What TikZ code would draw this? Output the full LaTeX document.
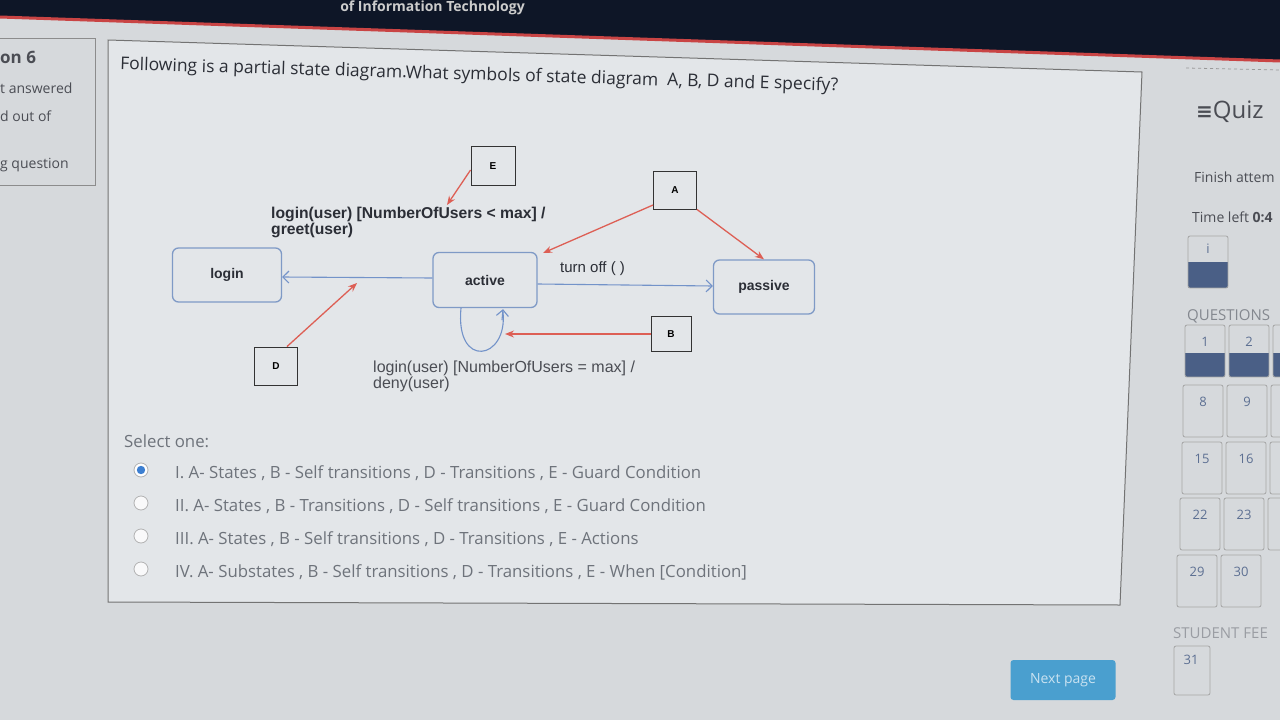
\documentclass[tikz,border=0pt]{standalone}
\usepackage{fontspec}
\setmainfont{Open Sans}
\newfontfamily\diagfont{Liberation Sans}
\newfontfamily\symfont{DejaVu Sans}
\usetikzlibrary{arrows.meta,positioning,calc}
\definecolor{pagebg}{HTML}{D6D9DC}
\definecolor{boxbg}{HTML}{E3E6E9}
\definecolor{navy}{HTML}{0E1627}
\definecolor{topred}{HTML}{C94444}
\definecolor{stateblue}{HTML}{7F9AC6}
\definecolor{transblue}{HTML}{7393C9}
\definecolor{pointred}{HTML}{DD5F55}
\definecolor{txtdark}{HTML}{2B2E36}
\definecolor{txtgray}{HTML}{6E737B}
\definecolor{radioblue}{HTML}{3D7FD1}
\definecolor{qdark}{HTML}{4A5F86}
\definecolor{btnblue}{HTML}{4A9FCF}
\tikzset{
  state/.style={draw=stateblue, fill=boxbg, rounded corners=6pt, line width=1.3pt,
    font=\diagfont\bfseries\fontsize{14}{16}\selectfont, text=txtdark},
  tag/.style={draw=black!80, fill=boxbg, line width=0.9pt, minimum width=43pt,
    minimum height=38pt, font=\diagfont\bfseries\fontsize{10}{12}\selectfont},
  trans/.style={-{Straight Barb[length=6pt,width=12pt]}, draw=transblue, line width=1.1pt},
  pointer/.style={-{Stealth[length=9pt,width=7pt]}, draw=pointred, line width=1.3pt},
  lbl/.style={font=\diagfont\fontsize{16}{15.5}\selectfont, align=left, inner sep=0pt, text=txtdark},
  opt/.style={anchor=west, font=\fontsize{16.8}{18}\selectfont, text=txtgray, inner sep=0pt},
  side/.style={anchor=west, font=\fontsize{14}{16}\selectfont, text=txtdark!85, inner sep=0pt},
  qbox/.style={draw=black!35, line width=0.8pt, rounded corners=2pt},
  qnum/.style={font=\fontsize{13}{15}\selectfont, text=qdark!90},
}
\begin{document}
\begin{tikzpicture}[x=1pt, y=-1pt]
  \useasboundingbox (0,0) rectangle (1280,720);
  \fill[pagebg] (0,0) rectangle (1280,720);
  % top bar
  \fill[navy] (0,0) -- (1280,0) -- (1280,60) -- (0,16) -- cycle;
  \draw[topred, line width=3pt] (0,17) -- (1280,61);
  \node[anchor=base east, font=\bfseries\fontsize{14}{16}\selectfont, text=black!20, inner sep=0pt] (site) at (525,12) {of Information Technology};
  % left panel
  \draw[black!45, line width=0.9pt] (-5,38) rectangle (95,185);
  \node[side, font=\bfseries\fontsize{17}{19}\selectfont] (qno) at (0,57) {on 6};
  \node[side] (ans) at (0,88) {t answered};
  \node[side] (mark) at (0,116) {d out of};
  \node[side] (flag) at (0,165) {g question};
  % question box
  \draw[black!55, fill=boxbg, line width=1pt] (108,40) -- (1142,72) -- (1120,605) -- (108,602) -- cycle;
  \node[anchor=west, rotate=-1.7, font=\fontsize{17.5}{20}\selectfont, text=txtdark, inner sep=0pt] (title) at (120,65)
    {Following is a partial state diagram.What symbols of state diagram\ \ A, B, D and E specify?};
  % states
  \node[state, minimum width=109pt, minimum height=54pt] (login) at (227,275) {login};
  \node[state, minimum width=104pt, minimum height=55pt] (active) at (485,280) {active};
  \node[state, minimum width=101pt, minimum height=54pt] (passive) at (764,287) {passive};
  % lettered boxes
  \node[tag, minimum width=44pt, minimum height=39pt] (E) at (493,166) {E};
  \node[tag] (A) at (675,190) {A};
  \node[tag, minimum width=40pt, minimum height=35pt] (B) at (671,334) {B};
  \node[tag] (D) at (276,366) {D};
  % labels
  \node[lbl, anchor=north west, font=\diagfont\bfseries\fontsize{15.7}{15.5}\selectfont] (guardok) at (271,207)
    {login(user) [NumberOfUsers < max] /\\greet(user)};
  \node[lbl, anchor=south west, font=\diagfont\fontsize{15}{15.5}\selectfont] (turnoff) at (560,276) {turn off ( )};
  \node[lbl, anchor=north west, text=txtdark!85] (guardfull) at (373,361)
    {login(user) [NumberOfUsers = max] /\\deny(user)};
  % transitions
  \draw[trans] (active.west |- 0,278) -- (login.east |- 0,277);
  \draw[trans] (active.east |- 0,284) -- (passive.west |- 0,286);
  \draw[transblue, line width=1.1pt] ($(active.south)+(-24,0)$) .. controls (455,370) and (508,360) .. ($(active.south)+(18,4)$);
  \draw[trans] ($(active.south)+(17,12)$) -- ($(active.south)+(18,1)$);
  % pointers
  \coordinate (eTip) at (447,205);
  \coordinate (aTip) at (543,253);
  \coordinate (bTip) at (505,334);
  \coordinate (dTip) at (357,283);
  \draw[pointer] (E.west |- 0,170) -- (eTip);
  \draw[pointer] (A.south west |- 0,205) -- (aTip);
  \draw[pointer] (A.south east) -- (passive.north);
  \draw[pointer] (B.west) -- (bTip);
  \draw[pointer] ($(D.north)+(11,0)$) -- (dTip);
  % answers
  \node[opt] (sel) at (124,441) {Select one:};
  \foreach \t [count=\k] in {
      {I. A- States , B - Self transitions , D - Transitions , E - Guard Condition},
      {II. A- States , B - Transitions , D - Self transitions , E - Guard Condition},
      {III. A- States , B - Self transitions , D - Transitions , E - Actions},
      {IV. A- Substates , B - Self transitions , D - Transitions , E - When [Condition]}}{
    \draw[black!30, fill=white!85!pagebg, line width=0.8pt] (141,437+33*\k) circle (7pt);
    \node[opt] (opt\k) at (175,440+33*\k) {\t};
  }
  \fill[white] (141,470) circle (6pt);
  \fill[radioblue] (141,470) circle (4.2pt);
  % sidebar
  \draw[black!40, dashed, line width=0.8pt] (1186,68) -- (1280,70);
  \node[side, font=\fontsize{24}{26}\selectfont] (quiz) at (1196,112) {{\symfont\bfseries\fontsize{20}{22}\selectfont ≡}Quiz};
  \node[side] (finish) at (1194,177) {Finish attem};
  \node[side] (time) at (1192,217) {Time left \textbf{0:4}};
  \fill[qdark] (1188,262) rectangle (1228,288);
  \draw[qbox] (1188,236) rectangle (1228,288);
  \node[qnum] (info) at (1208,249) {i};
  \node[side, font=\fontsize{15}{17}\selectfont, text=txtgray!85] (qs) at (1187,316) {QUESTIONS};
  \foreach \x/\y/\a/\b [count=\r] in {1185/325/1/2, 1183/385/8/9, 1182/442/15/16, 1180/498/22/23, 1177/555/29/30}{
    \ifnum\r=1
      \fill[qdark] (\x,\y+28) rectangle ++(40,24);
      \fill[qdark] (\x+44,\y+28) rectangle ++(40,24);
      \fill[qdark] (\x+88,\y+28) rectangle ++(40,24);
    \fi
    \draw[qbox] (\x,\y) rectangle ++(40,52);
    \draw[qbox] (\x+44,\y) rectangle ++(40,52);
    \ifnum\r<5 \draw[qbox] (\x+88,\y) rectangle ++(40,52); \fi
    \node[qnum] (q\a) at (\x+20,\y+17) {\a};
    \node[qnum] (q\b) at (\x+64,\y+17) {\b};
  }
  \node[side, font=\fontsize{15}{17}\selectfont, text=txtgray!70] (fb) at (1173,633) {STUDENT FEE};
  \draw[qbox] (1174,646) rectangle (1210,695);
  \node[qnum] (q31) at (1191,660) {31};
  % next button
  \node[fill=btnblue, rounded corners=3pt, minimum width=105pt, minimum height=40pt,
    font=\fontsize{14}{16}\selectfont, text=white!70!btnblue] (next) at (1063,680) {Next page};
\end{tikzpicture}
\end{document}
